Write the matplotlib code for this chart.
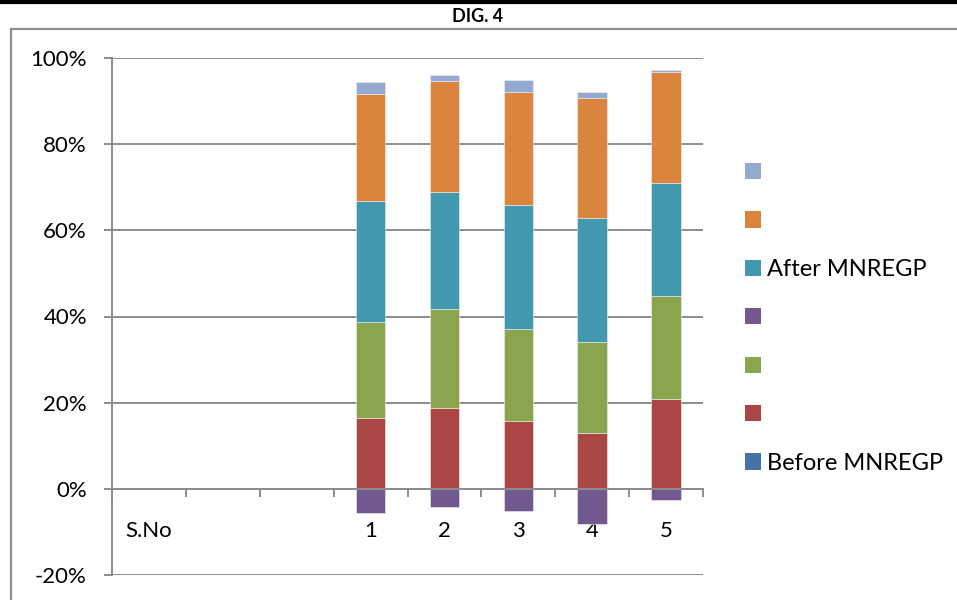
import matplotlib
matplotlib.use("Agg")
import matplotlib.pyplot as plt
from matplotlib.patches import Patch, Rectangle
from matplotlib.lines import Line2D
from matplotlib.ticker import PercentFormatter
import numpy as np

plt.rcParams['font.family'] = ['Lato', 'DejaVu Sans']
plt.rcParams['axes.unicode_minus'] = False

# categories along the x axis (first three are header / blank columns)
categories = ['S.No', '', '', '1', '2', '3', '4', '5']

# series values in percent, one entry per category (None = no bar)
before = [None, None, None, 0, 0, 0, 0, 0]
red_vals = [None, None, None, 16.5, 18.7, 15.7, 12.9, 20.8]
green_vals = [None, None, None, 22.3, 23.1, 21.3, 21.1, 23.9]
purple_vals = [None, None, None, -5.7, -4.2, -5.2, -8.1, -2.7]
after = [None, None, None, 27.9, 27.0, 28.9, 28.9, 26.4]
orange_vals = [None, None, None, 24.9, 25.8, 26.1, 27.7, 25.6]
lightblue_vals = [None, None, None, 2.9, 1.4, 3.0, 1.4, 0.6]

series = [
    ('Before MNREGP', before, '#4572A7'),
    ('', red_vals, '#AA4643'),
    ('', green_vals, '#89A54E'),
    ('', purple_vals, '#71588F'),
    ('After MNREGP', after, '#4198AF'),
    ('', orange_vals, '#DB843D'),
    ('', lightblue_vals, '#93A9CF'),
]

grey = '#8c8c8c'

fig = plt.figure(figsize=(9.57, 6.0), dpi=100)
ax = fig.add_axes([112 / 957, 1 - 575 / 600, (703 - 112) / 957, (575 - 58) / 600])

x = np.arange(len(categories))
pos_base = np.zeros(len(categories))
neg_base = np.zeros(len(categories))
handles = []
for name, vals, color in series:
    v = np.array([0 if a is None else a for a in vals], dtype=float)
    mask = np.array([a is not None for a in vals])
    bottoms = np.where(v >= 0, pos_base, neg_base)
    ax.bar(x[mask], v[mask], width=0.4, bottom=bottoms[mask], color=color,
           edgecolor='#f0f0f0', linewidth=0.4, zorder=3)
    pos_base = pos_base + np.where(v >= 0, v, 0)
    neg_base = neg_base + np.where(v < 0, v, 0)
    handles.append(Patch(facecolor=color, edgecolor='none'))

ax.set_xlim(-0.5, len(categories) - 0.5)
ax.set_ylim(-20, 100)
ax.set_yticks(np.arange(-20, 101, 20))
ax.yaxis.set_major_formatter(PercentFormatter(decimals=0))
ax.yaxis.grid(True, color=grey, linewidth=1.4, zorder=0)
ax.set_axisbelow(True)

# x axis crosses at zero, labels centred on categories, ticks at boundaries
ax.spines['bottom'].set_position(('data', 0))
ax.spines['bottom'].set_color(grey)
ax.spines['bottom'].set_linewidth(1.4)
ax.spines['bottom'].set_zorder(4)
ax.spines['left'].set_color(grey)
ax.spines['left'].set_linewidth(1.4)
for s in ['top', 'right']:
    ax.spines[s].set_visible(False)

ax.set_xticks(x)
ax.set_xticklabels(categories)
ax.set_xticks(np.arange(-0.5, len(categories), 1), minor=True)
ax.tick_params(axis='x', which='major', length=0, pad=23, labelsize=16)
ax.tick_params(axis='x', which='minor', length=6, width=1.4, color=grey)
ax.tick_params(axis='y', length=6, width=1.4, color=grey, pad=12, labelsize=16)

leg = fig.legend(handles[::-1], [s[0] if s[0] else ' ' for s in series][::-1],
                 loc='center left', bbox_to_anchor=(745 / 957, 1 - 318 / 600),
                 frameon=False, fontsize=17, handlelength=0.68, handleheight=0.68,
                 handletextpad=0.25, labelspacing=1.16, borderaxespad=0,
                 borderpad=0)

# page furniture: heading, top rule and chart border
fig.text(478 / 957, 1 - 17 / 600, 'DIG. 4', ha='center', va='center',
         fontsize=13, fontweight='bold')
fig.add_artist(Line2D([0, 1], [1 - 1.5 / 600, 1 - 1.5 / 600], color='black',
                      linewidth=3, transform=fig.transFigure))
fig.add_artist(Rectangle((10.5 / 957, -0.1), 1.2, 1 - 29 / 600 + 0.1,
                         transform=fig.transFigure, fill=False,
                         edgecolor=grey, linewidth=1.6))

fig.savefig('out.png', dpi=100)
